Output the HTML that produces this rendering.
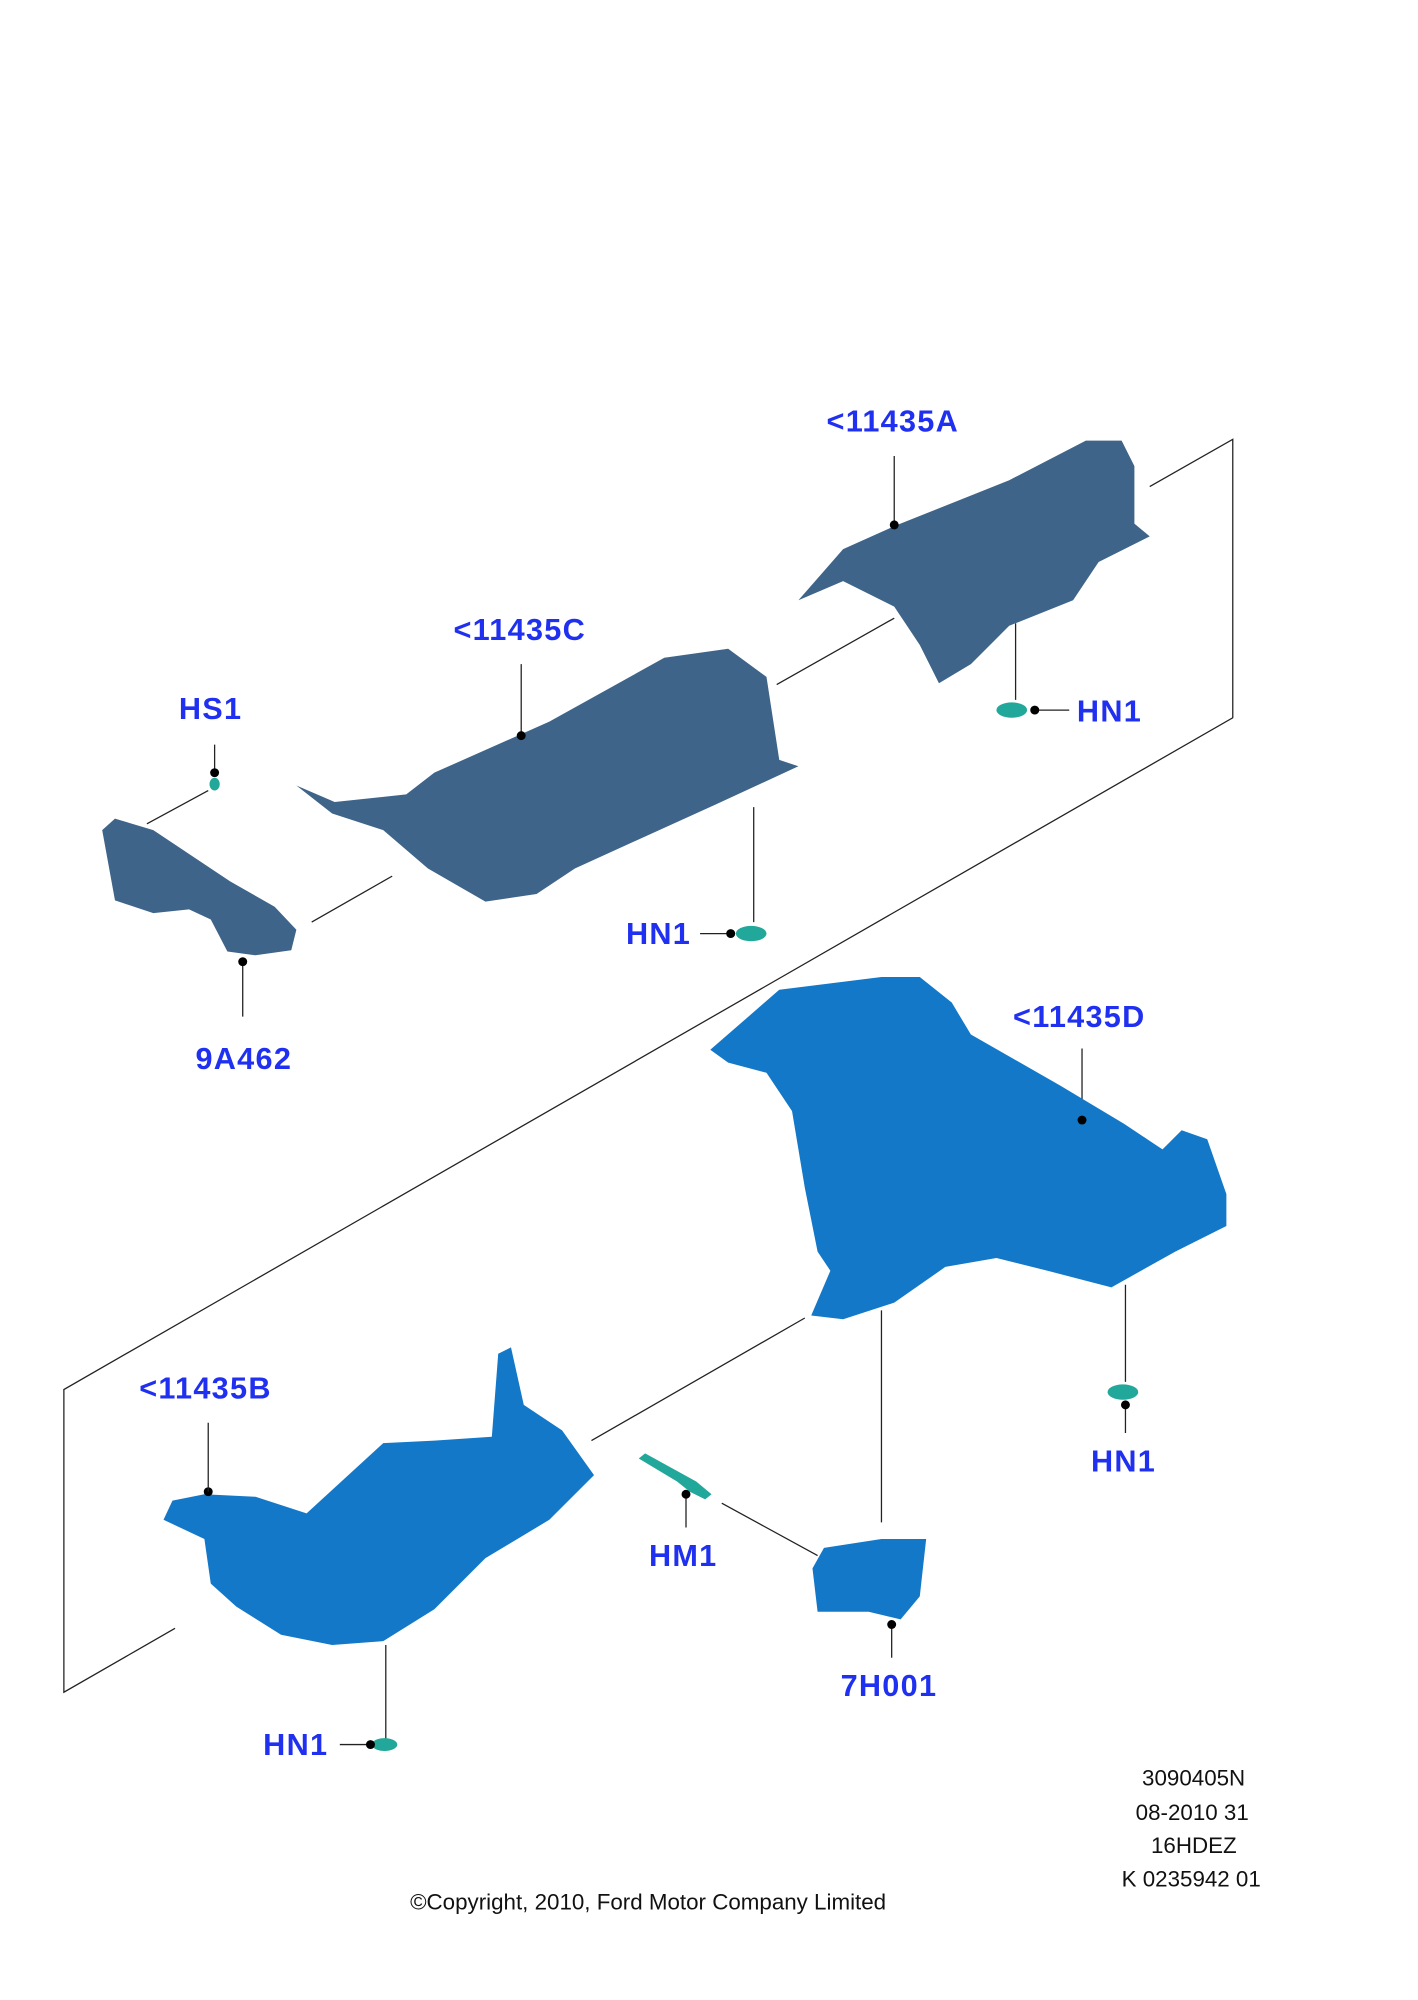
<!DOCTYPE html>
<html><head><style>
html,body{margin:0;padding:0;background:#fff;}
svg{display:block;}
.l{font-family:"Liberation Sans",sans-serif;font-weight:bold;font-size:24px;fill:#2030f0;letter-spacing:1px;}
.t{font-family:"Liberation Sans",sans-serif;font-size:17.5px;fill:#111;}
</style></head><body>
<svg width="1418" height="2000" viewBox="0 0 1110 1566" preserveAspectRatio="none" xmlns="http://www.w3.org/2000/svg">
<g stroke="#222" stroke-width="1" fill="none">
<path d="M900 381L965 344L965 562L50 1088L50 1325L137 1275"/>
<path d="M608 536L700 484M244 722L307 686M115 645L163 619M463 1128L630 1032M565 1177L640 1218"/>
<path d="M700 357V411M795 488V548M810 556H837M408 520V576M590 632V722M548 731H572M168 583V605M190 753V796M847 821V877M881 1006V1082M881 1100V1122M690 1026V1192M537 1170V1196M698 1272V1298M302 1288V1366M266 1366H290"/>
</g>
<g fill="#3f6489">
<path d="M625 470L660 430L700 412L790 376L850 345L878 345L888 365L888 410L900 420L860 440L840 470L790 490L760 520L735 535L720 505L700 475L660 455Z"/>
<path d="M232 615L262 628L318 622L340 605L430 565L520 515L570 508L600 530L610 595L625 600L560 630L450 680L420 700L380 706L335 680L300 650L260 637Z"/>
<path d="M80 650L90 641L120 650L180 690L215 710L232 728L228 744L200 748L178 745L165 720L148 712L120 715L90 705Z"/>
</g>
<g fill="#1478c8">
<path d="M556 822L610 775L690 765L720 765L745 785L760 810L830 850L880 880L910 900L925 885L945 892L960 935L960 960L920 980L870 1008L820 995L780 985L740 992L700 1020L660 1033L635 1030L650 995L640 980L630 930L620 870L600 840L570 832Z"/>
<path d="M128 1190L135 1175L160 1170L200 1172L240 1185L300 1130L340 1128L385 1125L390 1060L400 1055L410 1100L440 1120L465 1155L430 1190L380 1220L340 1260L300 1285L260 1288L220 1280L185 1258L165 1240L160 1205Z"/>
<path d="M636 1228L645 1212L690 1205L725 1205L720 1250L705 1268L680 1262L640 1262Z"/>
</g>
<g fill="#22a89a">
<ellipse cx="792" cy="556" rx="12" ry="6"/><ellipse cx="588" cy="731" rx="12" ry="6"/>
<ellipse cx="879" cy="1090" rx="12" ry="6"/><ellipse cx="301" cy="1366" rx="10" ry="5"/>
<path d="M500 1142L505 1138L545 1160L557 1170L552 1174L540 1168L530 1160Z"/>
<ellipse cx="168" cy="614" rx="4" ry="5"/>
</g>
<g fill="#000">
<circle cx="700" cy="411" r="3.5"/><circle cx="810" cy="556" r="3.5"/><circle cx="408" cy="576" r="3.5"/>
<circle cx="572" cy="731" r="3.5"/><circle cx="168" cy="605" r="3.5"/><circle cx="190" cy="753" r="3.5"/>
<circle cx="847" cy="877" r="3.5"/><circle cx="881" cy="1100" r="3.5"/><circle cx="537" cy="1170" r="3.5"/>
<circle cx="698" cy="1272" r="3.5"/><circle cx="163" cy="1168" r="3.5"/><circle cx="290" cy="1366" r="3.5"/>
</g>
<path d="M163 1114V1168" stroke="#222" stroke-width="1"/>
<text class="l" x="647" y="338">&lt;11435A</text>
<text class="l" x="843" y="565">HN1</text>
<text class="l" x="355" y="501">&lt;11435C</text>
<text class="l" x="140" y="563">HS1</text>
<text class="l" x="490" y="739">HN1</text>
<text class="l" x="153" y="837">9A462</text>
<text class="l" x="793" y="804">&lt;11435D</text>
<text class="l" x="854" y="1152">HN1</text>
<text class="l" x="109" y="1095">&lt;11435B</text>
<text class="l" x="508" y="1226">HM1</text>
<text class="l" x="658" y="1328">7H001</text>
<text class="l" x="206" y="1374">HN1</text>
<text class="t" x="894" y="1398">3090405N</text>
<text class="t" x="889" y="1425">08-2010 31</text>
<text class="t" x="901" y="1451">16HDEZ</text>
<text class="t" x="878" y="1477">K 0235942 01</text>
<text class="t" x="321" y="1495">©Copyright, 2010, Ford Motor Company Limited</text>
</svg>
</body></html>
